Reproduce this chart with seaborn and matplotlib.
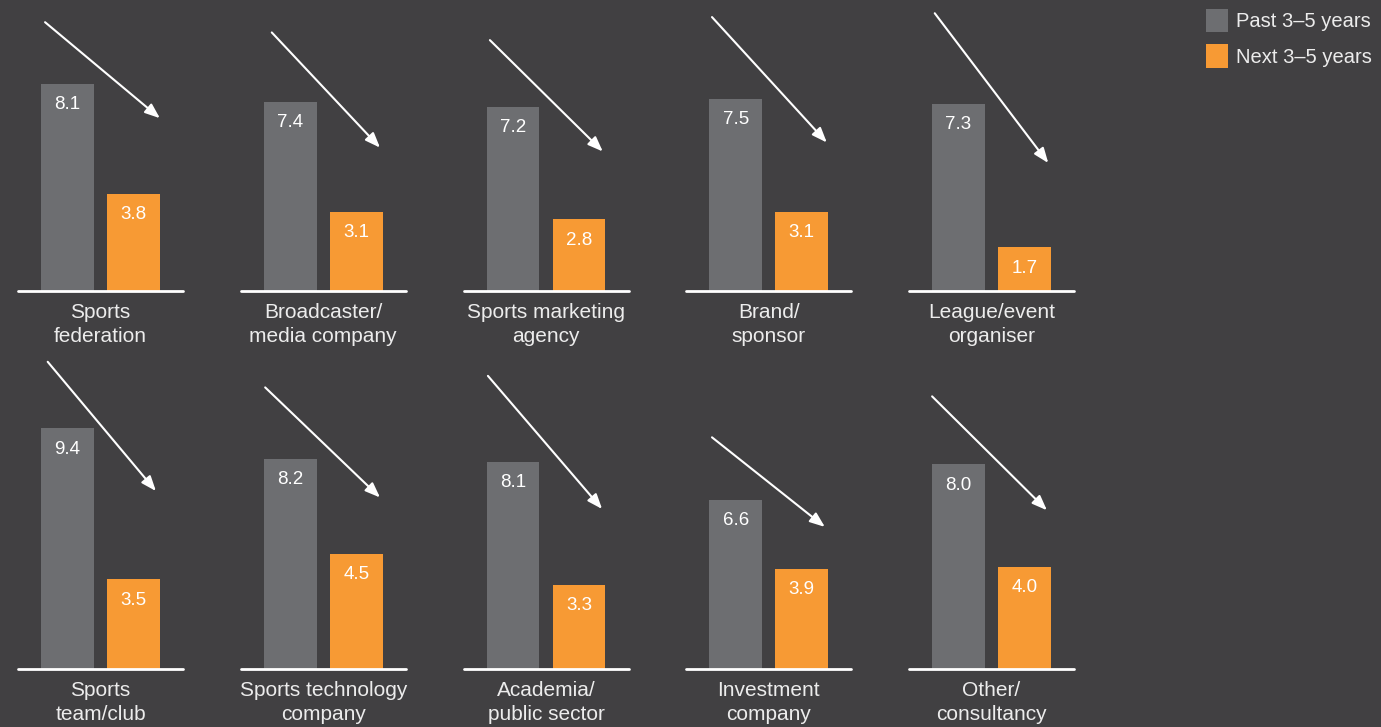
import numpy as np
import pandas as pd
import matplotlib.pyplot as plt
from matplotlib.patches import Patch
import seaborn as sns

sns.set_style("white")
plt.rcParams["font.family"] = ["Liberation Sans", "DejaVu Sans"]

# data
categories = ["Sports\nfederation", "Broadcaster/\nmedia company", "Sports marketing\nagency",
              "Brand/\nsponsor", "League/event\norganiser", "Sports\nteam/club",
              "Sports technology\ncompany", "Academia/\npublic sector", "Investment\ncompany",
              "Other/\nconsultancy"]
past = [8.1, 7.4, 7.2, 7.5, 7.3, 9.4, 8.2, 8.1, 6.6, 8.0]
upcoming = [3.8, 3.1, 2.8, 3.1, 1.7, 3.5, 4.5, 3.3, 3.9, 4.0]
periods = ["Past 3–5 years", "Next 3–5 years"]

# arrow start / end (x, y) per panel, in bar units
arrow_start = [(-0.34, 10.5), (-0.28, 10.1), (-0.35, 9.8), (-0.36, 10.7), (-0.36, 10.85),
               (-0.30, 12.0), (-0.38, 11.0), (-0.38, 11.45), (-0.36, 9.05), (-0.40, 10.65)]
arrow_end = [(1.40, 6.75), (1.36, 5.6), (1.36, 5.45), (1.38, 5.8), (1.36, 5.0),
             (1.34, 6.95), (1.36, 6.7), (1.35, 6.25), (1.35, 5.55), (1.34, 6.2)]

bg = "#414042"
grey = "#6d6e71"
orange = "#f79a34"
txt = "#ececec"

W, H = 1381, 727
fig = plt.figure(figsize=(W / 100, H / 100), dpi=100, facecolor=bg)

px_unit = 25.6          # pixels per unit on the value axis
step = 66               # pixels between bar centres
first_centre = 67.5
panel_gap = 222.75
rows = [(291, 0), (669, 345)]   # (baseline px, top px) for each row

for i, cat in enumerate(categories):
    r, c = divmod(i, 5)
    base, top = rows[r]
    left = first_centre + c * panel_gap - 0.75 * step
    ax = fig.add_axes([left / W, (H - base) / H, 2.5 * step / W, (base - top) / H])
    ax.set_facecolor("none")

    d = pd.DataFrame({"period": periods, "value": [past[i], upcoming[i]]})
    sns.barplot(data=d, x="period", y="value", hue="period", order=periods,
                hue_order=periods, palette=[grey, orange], saturation=1,
                width=0.8, legend=False, linewidth=0, ax=ax)
    ax.set_xlim(-0.75, 1.75)
    ax.set_ylim(0, (base - top) / px_unit)
    ax.axhline(0, color="white", lw=2, clip_on=False)
    for s in ax.spines.values():
        s.set_visible(False)
    ax.set_xticks([])
    ax.set_yticks([])
    ax.set_xlabel("")
    ax.set_ylabel("")

    for x, v in enumerate([past[i], upcoming[i]]):
        ax.annotate(f"{v:.1f}", xy=(x, v), xytext=(0, -15), textcoords="offset points",
                    ha="center", va="center", color="white", fontsize=13.5)

    ax.annotate(cat, xy=(0.5, 0), xycoords="axes fraction", xytext=(0, -8.5),
                textcoords="offset points", ha="center", va="top", color=txt,
                fontsize=15, linespacing=1.32)

    ax.annotate("", xy=arrow_end[i], xytext=arrow_start[i], annotation_clip=False,
                arrowprops=dict(arrowstyle="-|>,head_length=0.9,head_width=0.35",
                                color="white", lw=1.5, shrinkA=0, shrinkB=0))

handles = [Patch(facecolor=grey, edgecolor="none", label=periods[0]),
           Patch(facecolor=orange, edgecolor="none", label=periods[1])]
fig.legend(handles=handles, loc="upper right", bbox_to_anchor=(1.0, 1.0), frameon=False,
           labelcolor=txt, fontsize=14.5, handlelength=1.1, handleheight=1.4,
           handletextpad=0.4, labelspacing=0.6, borderaxespad=0.15, borderpad=0.3)

fig.savefig("out.png", dpi=100, facecolor=bg)
